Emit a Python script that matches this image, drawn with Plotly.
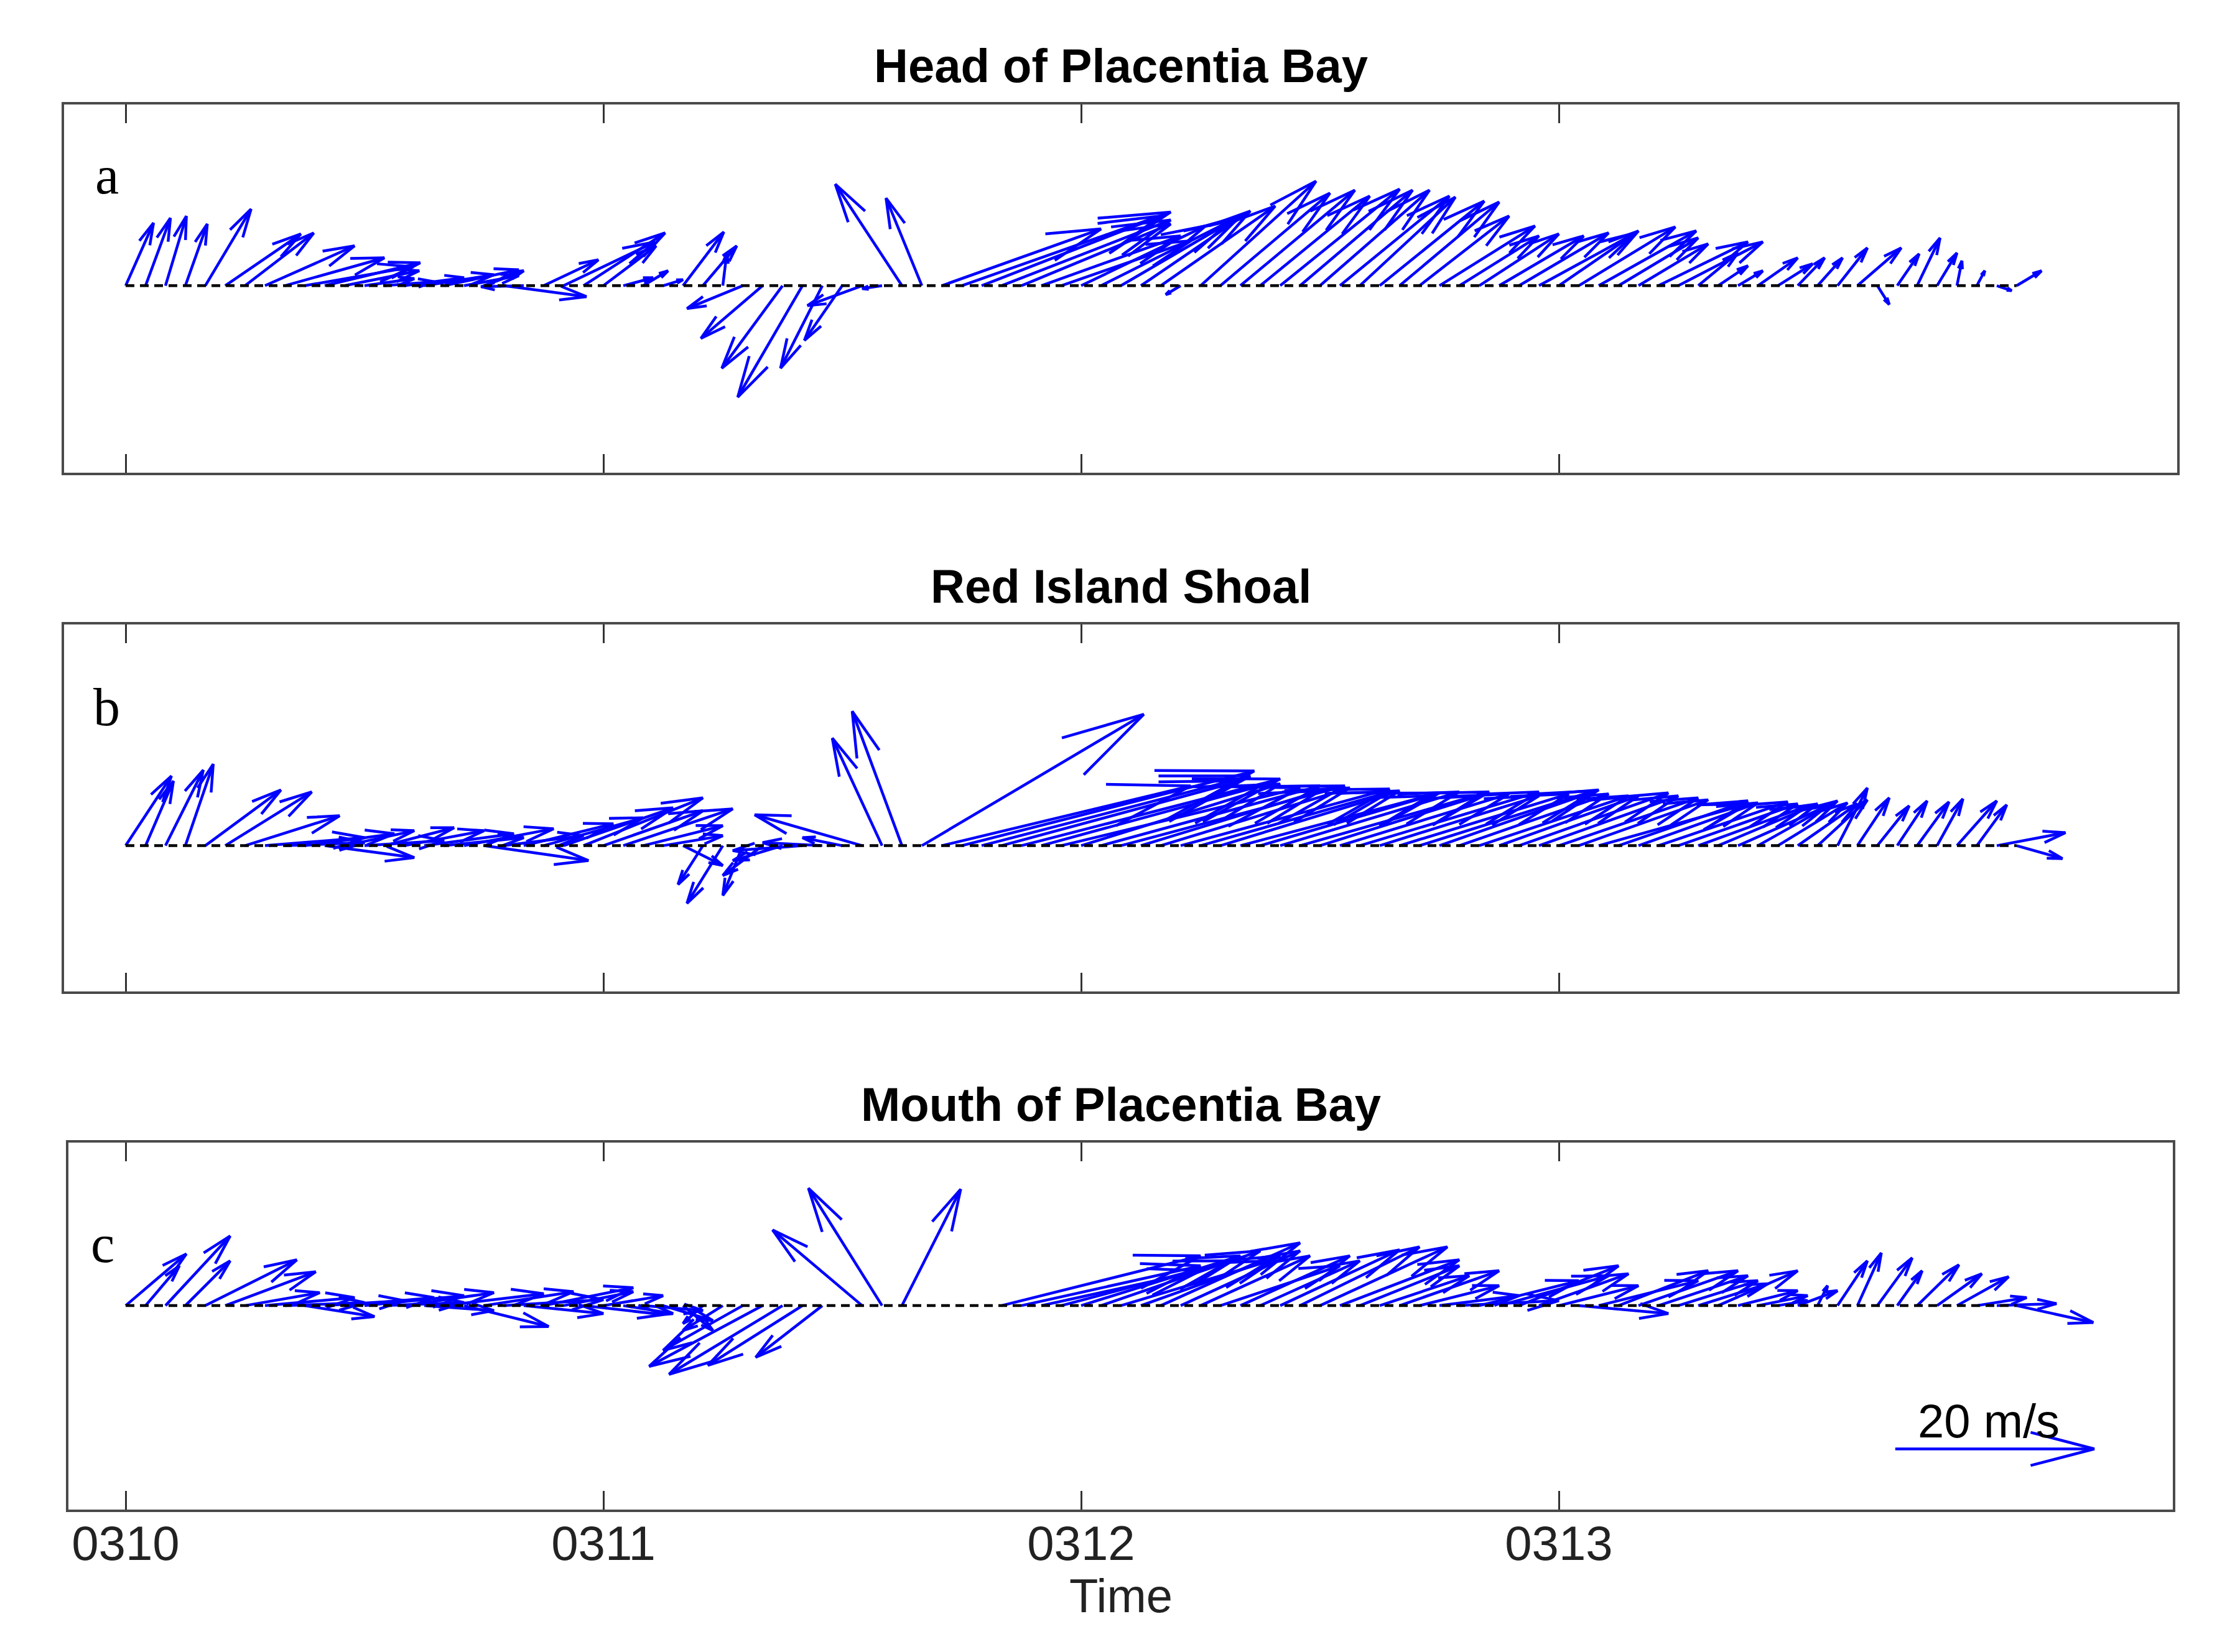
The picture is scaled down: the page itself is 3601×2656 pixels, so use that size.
import plotly.graph_objects as go

# ---------------- data ----------------
HOURS = list(range(96))            # hourly samples from 0310 00:00
TICK_VALS = [0, 24, 48, 72]
TICK_TEXT = ["0310", "0311", "0312", "0313"]
TITLES = ["Head of Placentia Bay", "Red Island Shoal", "Mouth of Placentia Bay"]
LETTERS = ["a", "b", "c"]

# Head of Placentia Bay (u east, v north, m/s)
A_U = [2.8, 2.5, 2.1, 2.2, 4.6, 7.6, 6.9, 9.0, 10.0, 10.9, 9.6, 7.5, 5.0, 5.0, 6.0, 7.0,
       7.5, 5.5, 4.0, 8.3, -4.3, 5.5, 9.2, 8.2, 5.3, 3.0, 2.5, 2.0, 4.1, 3.4, 0.4, -5.6,
       -6.2, -6.1, -6.5, -4.2, -3.8, -5.5, -2.0, -6.7, -3.6, 16.0, 21.0, 18.0, 17.0, 15.0,
       14.0, 13.0, 12.5, 13.0, 12.0, 11.0, 11.5, -1.5, 11.6, 11.0, 11.5, 11.0, 12.0, 11.3,
       11.0, 11.0, 9.6, 10.5, 10.0, 9.0, 9.6, 8.0, 8.0, 8.5, 9.0, 9.7, 8.0, 9.7, 9.8, 8.0,
       7.0, 9.0, 8.5, 4.0, 3.0, 2.5, 4.0, 3.5, 2.7, 2.5, 3.0, 4.4, 1.2, 2.2, 2.3, 2.0,
       0.5, 0.8, 1.5, 2.5]
A_V = [6.3, 6.8, 7.0, 6.2, 7.7, 5.2, 5.3, 4.0, 2.8, 1.9, 2.3, 1.5, 0.7, 0.4, 0.8, 1.1,
       1.6, 1.0, 1.5, -1.1, -0.1, 2.6, 4.4, 5.3, 4.0, 0.8, 1.5, 0.6, 5.4, 4.0, 3.3, -2.3,
       -5.3, -8.3, -11.2, -8.3, -5.5, -2.0, -0.3, 10.2, 8.8, 5.7, 7.4, 7.0, 6.6, 6.2,
       5.0, 4.5, 6.0, 6.5, 7.0, 7.5, 8.0, -0.9, 10.5, 9.3, 9.6, 9.0, 9.7, 9.6,
       9.6, 9.0, 8.9, 8.5, 8.4, 7.0, 6.0, 5.0, 5.2, 5.0, 5.3, 5.3, 5.5, 5.9, 5.5, 4.8,
       4.2, 4.4, 4.4, 3.3, 2.0, 1.5, 2.8, 2.2, 2.8, 2.8, 3.8, 3.8, -1.9, 3.2, 4.8, 3.3,
       2.5, 1.5, -0.5, 1.5]

# Red Island Shoal
B_U = [4.6, 2.8, 3.8, 2.8, 7.6, 8.7, 9.5, 10.0, 8.0, 9.0, 9.0, 7.0, 8.0, 7.0, 8.0, 9.0,
       8.0, 9.0, 10.5, 8.0, 9.0, 10.0, 11.0, 12.0, 10.0, 11.0, 8.0, 6.0, 4.0, -2.5, -3.6, -2.0,
       -4.0, -5.0, -7.0, -6.0, -4.0, -10.8, -5.0, -5.0, 22.3, 25.0, 29.4, 27.0, 24.0, 26.0,
       22.0, 24.0, 20.0, 22.0, 22.5, 18.0, 19.0, 21.0, 19.0, 18.0, 20.0, 17.0, 18.0, 19.0,
       16.0, 17.0, 18.0, 16.0, 17.0, 17.5, 16.0, 15.0, 15.0, 14.0, 15.0, 14.0, 14.0, 13.0,
       15.0, 13.0, 12.0, 13.0, 12.0, 11.0, 10.0, 9.0, 8.0, 7.0, 6.0, 5.0, 3.0, 3.2, 3.2,
       3.0, 3.2, 2.6, 4.0, 3.0, 6.9, 4.6]
B_V = [7.0, 6.5, 7.6, 8.2, 5.6, 5.4, 3.0, 0.8, 0.3, 1.2, -1.2, 1.5, 0.5, 1.8, 1.5, 1.2,
       0.8, 1.7, -1.5, 1.0, 2.2, 2.8, 3.8, 4.8, 3.5, 3.7, 2.0, 1.0, -2.0, -3.9, -5.8, -5.0,
       -3.0, -1.5, -0.5, 0.3, 0.8, 3.1, 10.8, 13.5, 13.2, 6.0, 7.5, 7.0, 6.5, 6.7,
       6.0, 5.8, 6.2, 6.0, 6.0, 5.5, 5.8, 5.7, 5.4, 5.5, 5.3, 5.0, 5.4, 5.4,
       5.0, 5.2, 5.4, 5.0, 5.2, 5.5, 5.6, 5.2, 5.0, 5.0, 5.3, 5.0, 4.8, 4.6,
       4.2, 4.5, 4.3, 4.4, 4.2, 4.0, 4.2, 4.0, 4.5, 4.3, 4.2, 4.6, 5.8, 4.8, 4.0,
       4.5, 4.4, 4.7, 4.5, 4.1, 1.3, -1.3]

# Mouth of Placentia Bay (None = no data)
C_U = [6.1, 3.4, 6.5, 4.5, 9.2, 9.1, 7.5, 9.0, 8.0, 7.0, 8.0, 9.0, 10.0, 8.0, 9.0, 7.0,
       10.0, 8.5, 9.0, 10.0, 8.0, 9.0, 7.0, 8.0, 6.0, 5.0, 6.0, 5.0, 3.0, -2.0, -4.0, -8.0,
       -11.4, -11.4, -9.5, -6.7, None, -9.0, -7.4, 5.9, None, None, None, None, 20.0, 18.0,
       16.0, 17.0, 16.0, 16.0, 15.0, 14.0, 14.0, 12.0, 11.0, 12.0, 11.0, 10.0, 12.0, 12.0,
       12.8, 12.0, 10.0, 9.0, 10.0, 8.0, 8.0, 10.0, 10.0, 11.0, 10.0, 9.0, 8.0, 9.0,
       10.0, 9.0, 10.0, 9.0, 8.0, 7.0, 8.0, 6.0, 5.0, 3.0, 4.0, 1.0, 3.0, 2.4, 3.5,
       2.5, 4.2, 4.5, 5.2, 5.0, 6.0, 7.7]
C_V = [5.2, 4.0, 7.0, 4.5, 4.6, 3.4, 1.3, 0.8, 0.3, -1.1, 0.5, 0.8, 1.0, 0.3, 1.3, -0.5,
       1.2, -2.1, 1.4, 0.6, -0.8, 1.8, 1.4, -0.9, 1.0, -0.8, -0.5, -1.5, -2.5, -1.8, -2.5, -4.5,
       -6.1, -6.9, -6.0, -5.2, None, 7.6, 11.8, 11.7, None, None, None, None, 5.0, 4.0,
       3.5, 4.5, 5.0, 5.5, 4.5, 5.0, 6.3, 5.5, 5.0, 4.0, 5.0, 4.5, 5.6, 5.9,
       5.9, 4.6, 4.0, 3.0, 3.5, 2.0, 1.0, 0.5, 2.5, 3.0, 4.0, 3.2, 2.0, -0.8,
       2.5, 3.5, 3.5, 3.0, 2.5, 2.2, 3.5, 1.5, 1.0, 0.5, 1.5, 2.0, 4.5, 5.3, 4.8,
       3.5, 4.1, 3.2, 2.9, 0.8, 0.2, -1.7]

REF_SPEED = 20          # m/s reference arrow
REF_LABEL = "20 m/s"

# ---------------- layout constants ----------------
W, H = 3601, 2656
HOURS_PER_MS = 0.5      # quiver scale: x displacement (hours) per m/s
PX_PER_H = 32.0
PX_PER_MS = PX_PER_H * HOURS_PER_MS
X0_PX = 202.0           # pixel of 0310 00:00
BLUE = "#0000ff"

PANELS = [
    dict(u=A_U, v=A_V, box=(103, 3500, 168, 760), zero=459.3, letter_xy=(-0.95, 11.1)),
    dict(u=B_U, v=B_V, box=(103, 3500, 1004, 1594), zero=1359.6, letter_xy=(-0.95, 13.9)),
    dict(u=C_U, v=C_V, box=(110, 3493, 1837, 2427), zero=2099.1, letter_xy=(-1.15, 6.2)),
]


def quiver_xy(t, u, v, y0=0.0, alpha=0.32, beta=0.26):
    tip_x, tip_y = t + HOURS_PER_MS * u, y0 + v
    b1u, b1v = u - alpha * (u + beta * v), v - alpha * (v - beta * u)
    b2u, b2v = u - alpha * (u - beta * v), v - alpha * (v + beta * u)
    xs = [t, tip_x, None, t + HOURS_PER_MS * b1u, tip_x, t + HOURS_PER_MS * b2u, None]
    ys = [y0, tip_y, None, y0 + b1v, tip_y, y0 + b2v, None]
    return xs, ys


fig = go.Figure()
annotations = []
layout_axes = {}

for i, p in enumerate(PANELS):
    n = "" if i == 0 else str(i + 1)
    xa, ya = "x" + n, "y" + n
    l, r, t, b = p["box"]
    xr = [(l - X0_PX) / PX_PER_H, (r - X0_PX) / PX_PER_H]
    yr = [-(b - p["zero"]) / PX_PER_MS, (p["zero"] - t) / PX_PER_MS]

    xs, ys = [], []
    for h, uu, vv in zip(HOURS, p["u"], p["v"]):
        if uu is None or vv is None:
            continue
        ax_, ay_ = quiver_xy(h, uu, vv)
        xs += ax_
        ys += ay_
    if i == 2:
        ax_, ay_ = quiver_xy(88.9, REF_SPEED, 0, y0=-14.4)
        xs += ax_
        ys += ay_
    fig.add_trace(go.Scatter(x=xs, y=ys, mode="lines", xaxis=xa, yaxis=ya,
                             line=dict(color=BLUE, width=4.5), hoverinfo="skip",
                             showlegend=False))
    fig.add_trace(go.Scatter(x=[HOURS[0], HOURS[-1]], y=[0, 0], mode="lines",
                             xaxis=xa, yaxis=ya,
                             line=dict(color="black", width=4.5, dash="14px,9px"),
                             hoverinfo="skip", showlegend=False))

    layout_axes["xaxis" + n] = dict(
        domain=[l / W, r / W], range=xr, anchor=ya,
        tickvals=TICK_VALS, ticktext=TICK_TEXT, ticks="inside", ticklen=30,
        tickwidth=2.5, tickcolor="#333333", showline=True, linewidth=4,
        linecolor="#4a4a4a", mirror="ticks", showgrid=False, zeroline=False,
        showticklabels=(i == 2), ticklabelstandoff=-17,
        tickfont=dict(family="Liberation Sans", size=78, color="#222222"))
    layout_axes["yaxis" + n] = dict(
        domain=[1 - b / H, 1 - t / H], range=yr, anchor=xa,
        showticklabels=False, ticks="", showline=True, linewidth=4,
        linecolor="#4a4a4a", mirror=True, showgrid=False, zeroline=False)

    annotations.append(dict(
        text="<b>" + TITLES[i] + "</b>", xref="paper", yref="paper",
        x=(l + r) / 2 / W, y=1 - (t - 62) / H, xanchor="center", yanchor="middle",
        showarrow=False, font=dict(family="Liberation Sans", size=76, color="black")))
    annotations.append(dict(
        text=LETTERS[i], xref=xa, yref=ya, x=p["letter_xy"][0], y=p["letter_xy"][1],
        xanchor="center", yanchor="middle", showarrow=False,
        font=dict(family="Liberation Serif", size=86, color="black")))

annotations.append(dict(
    text=REF_LABEL, xref="x3", yref="y3", x=93.6, y=-11.6, xanchor="center",
    yanchor="middle", showarrow=False,
    font=dict(family="Liberation Sans", size=76, color="black")))
annotations.append(dict(
    text="Time", xref="paper", yref="paper", x=(110 + 3493) / 2 / W, y=1 - 2565 / H,
    xanchor="center", yanchor="middle", showarrow=False,
    font=dict(family="Liberation Sans", size=76, color="#222222")))

fig.update_layout(width=W, height=H, margin=dict(l=0, r=0, t=0, b=0),
                  paper_bgcolor="white", plot_bgcolor="white",
                  annotations=annotations, **layout_axes)

fig.write_html("out.html", config={"displayModeBar": False},
               post_script="document.body.style.margin='0px';")
